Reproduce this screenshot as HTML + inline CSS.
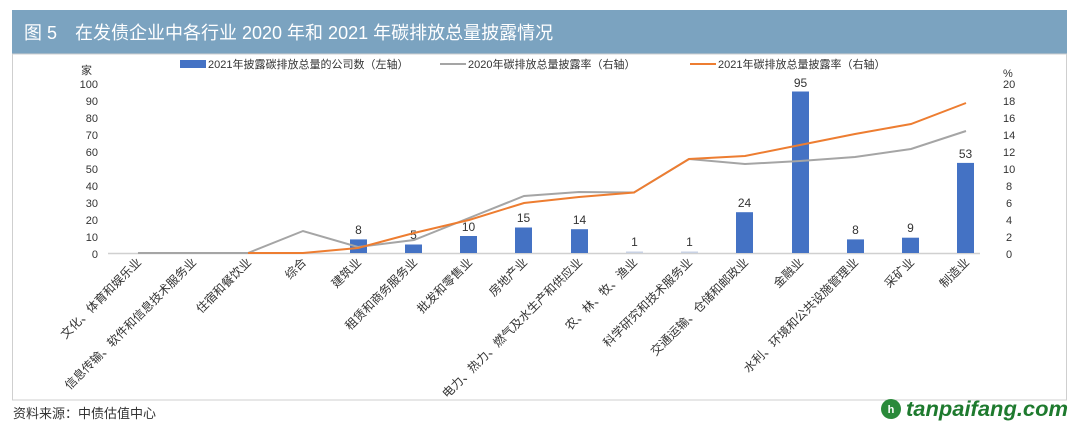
<!DOCTYPE html>
<html><head><meta charset="utf-8"><style>
body{margin:0;background:#fff;width:1080px;height:428px;overflow:hidden;font-family:"Liberation Sans","Noto Sans CJK SC",sans-serif}
</style></head><body>
<svg width="1080" height="428" xmlns="http://www.w3.org/2000/svg" font-family="Liberation Sans, Noto Sans CJK SC, sans-serif">
<rect x="12" y="10" width="1055" height="44" fill="#7ba3c0"/>
<text x="24" y="39" font-size="18" fill="#fff">图 5　在发债企业中各行业 2020 年和 2021 年碳排放总量披露情况</text>
<rect x="12.5" y="54" width="1054" height="346" fill="none" stroke="#cfcfcf"/>
<g font-size="11" fill="#333">
<rect x="180" y="60" width="26" height="8" fill="#4472c4"/>
<text x="208" y="68">2021年披露碳排放总量的公司数（左轴）</text>
<line x1="440" y1="64" x2="466" y2="64" stroke="#a5a5a5" stroke-width="2"/>
<text x="468" y="68">2020年碳排放总量披露率（右轴）</text>
<line x1="690" y1="64" x2="716" y2="64" stroke="#ed7d31" stroke-width="2"/>
<text x="718" y="68">2021年碳排放总量披露率（右轴）</text>
</g>
<g font-size="11" fill="#333" text-anchor="end">
<text x="92" y="74">家</text>
<text x="98" y="88">100</text><text x="98" y="105">90</text><text x="98" y="122">80</text><text x="98" y="139">70</text><text x="98" y="156">60</text><text x="98" y="173">50</text><text x="98" y="190">40</text><text x="98" y="207">30</text><text x="98" y="224">20</text><text x="98" y="241">10</text><text x="98" y="258">0</text>
</g>
<g font-size="11" fill="#333">
<text x="1003" y="77">%</text>
<text x="1003" y="88">20</text><text x="1003" y="105">18</text><text x="1003" y="122">16</text><text x="1003" y="139">14</text><text x="1003" y="156">12</text><text x="1003" y="173">10</text><text x="1006" y="190">8</text><text x="1006" y="207">6</text><text x="1006" y="224">4</text><text x="1006" y="241">2</text><text x="1006" y="258">0</text>
</g>
<line x1="108" y1="253.5" x2="980" y2="253.5" stroke="#d0d0d0" stroke-width="1.5"/>
<g fill="#4472c4">
<rect x="350" y="239.4" width="17" height="13.6"/>
<rect x="405" y="244.5" width="17" height="8.5"/>
<rect x="460" y="236" width="17" height="17"/>
<rect x="515" y="227.5" width="17" height="25.5"/>
<rect x="571" y="229.2" width="17" height="23.8"/>
<rect x="626" y="251.5" width="17" height="1.5" fill="#c8d2e4"/>
<rect x="681" y="251.5" width="17" height="1.5" fill="#c8d2e4"/>
<rect x="736" y="212.2" width="17" height="40.8"/>
<rect x="792" y="91.5" width="17" height="161.5"/>
<rect x="847" y="239.4" width="17" height="13.6"/>
<rect x="902" y="237.7" width="17" height="15.3"/>
<rect x="957" y="162.9" width="17" height="90.1"/>
</g>
<g font-size="12" fill="#333" text-anchor="middle">
<text x="358.5" y="234">8</text><text x="413.5" y="239">5</text><text x="468.5" y="231">10</text><text x="523.5" y="222">15</text><text x="579.5" y="224">14</text><text x="634.5" y="246">1</text><text x="689.5" y="246">1</text><text x="744.5" y="207">24</text><text x="800.5" y="87">95</text><text x="855.5" y="234">8</text><text x="910.5" y="232">9</text><text x="965.5" y="158">53</text>
</g>
<polyline fill="none" stroke="#a5a5a5" stroke-width="2" points="138,253 193,253 248,253 303,231 358,247 414,240 469,218 524,196 579,192 634,192.5 689,159 745,164 800,161 855,157 911,149 966,131"/>
<polyline fill="none" stroke="#ed7d31" stroke-width="2" points="248,253 303,253 358,248 414,233 469,220 524,203 579,197 634,192.5 689,159 745,156 800,145 855,134 911,124 966,103"/>
<g font-size="12" fill="#333" text-anchor="end">
<text transform="translate(142,263) rotate(-45)">文化、体育和娱乐业</text>
<text transform="translate(197,263) rotate(-45)">信息传输、软件和信息技术服务业</text>
<text transform="translate(252,263) rotate(-45)">住宿和餐饮业</text>
<text transform="translate(307,263) rotate(-45)">综合</text>
<text transform="translate(362,263) rotate(-45)">建筑业</text>
<text transform="translate(418,263) rotate(-45)">租赁和商务服务业</text>
<text transform="translate(473,263) rotate(-45)">批发和零售业</text>
<text transform="translate(528,263) rotate(-45)">房地产业</text>
<text transform="translate(583,263) rotate(-45)">电力、热力、燃气及水生产和供应业</text>
<text transform="translate(638,263) rotate(-45)">农、林、牧、渔业</text>
<text transform="translate(693,263) rotate(-45)">科学研究和技术服务业</text>
<text transform="translate(749,263) rotate(-45)">交通运输、仓储和邮政业</text>
<text transform="translate(804,263) rotate(-45)">金融业</text>
<text transform="translate(859,263) rotate(-45)">水利、环境和公共设施管理业</text>
<text transform="translate(915,263) rotate(-45)">采矿业</text>
<text transform="translate(970,263) rotate(-45)">制造业</text>
</g>
<text x="13" y="418" font-size="13" fill="#333">资料来源：中债估值中心</text>
<circle cx="891" cy="409" r="10" fill="#2a8a3a"/>
<text x="891" y="413" font-size="11" fill="#fff" text-anchor="middle" font-weight="bold">h</text>
<text x="906" y="416" font-size="21" font-weight="bold" font-style="italic" fill="#1e7a2e" textLength="162" lengthAdjust="spacingAndGlyphs">tanpaifang.com</text>
</svg>
</body></html>
